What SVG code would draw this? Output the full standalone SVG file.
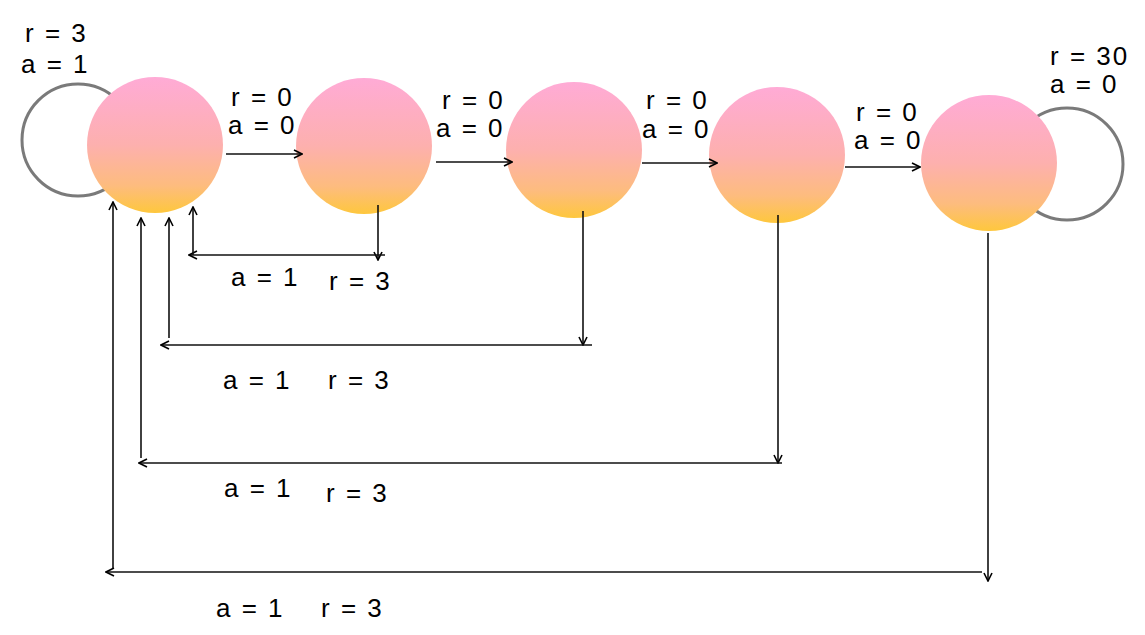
<svg xmlns="http://www.w3.org/2000/svg" width="1145" height="635" viewBox="0 0 1145 635">
  <defs>
    <linearGradient id="fill" x1="0" y1="0" x2="0" y2="1">
      <stop offset="0" stop-color="#FFABD6"/>
      <stop offset="0.5" stop-color="#FDB0AE"/>
      <stop offset="0.8" stop-color="#FDBC7E"/>
      <stop offset="1" stop-color="#FEC73D"/>
    </linearGradient>
    <marker id="arr" viewBox="0 0 10 10" refX="9" refY="5" markerWidth="10" markerHeight="10" markerUnits="userSpaceOnUse" orient="auto">
      <path d="M1,1 L9,5 L1,9" fill="none" stroke="#000" stroke-width="1.6"/>
    </marker>
    <style>
      .st { fill: url(#fill); }
      .loop { fill: none; stroke: #7a7a7a; stroke-width: 3; }
      .ln { fill: none; stroke: #111; stroke-width: 1.6; }
      .ar { fill: none; stroke: #111; stroke-width: 1.6; marker-end: url(#arr); }
      .lb { font-family: "Liberation Sans", Arial, sans-serif; font-size: 26px; letter-spacing: 2px; fill: #000; }
    </style>
  </defs>
  <rect width="1145" height="635" fill="#fff"/>

  <g id="self-loops">
    <circle class="loop" cx="78" cy="140" r="56"/>
    <circle class="loop" cx="1067" cy="164" r="56"/>
  </g>

  <g id="s1"><circle class="st" cx="155" cy="145" r="68"/></g>
  <g id="s2"><circle class="st" cx="364" cy="146" r="68"/></g>
  <g id="s3"><circle class="st" cx="574" cy="150" r="68"/></g>
  <g id="s4"><circle class="st" cx="777" cy="155" r="68"/></g>
  <g id="s5"><circle class="st" cx="989" cy="163" r="68"/></g>

  <g id="connectors">
    <line class="ar" x1="226" y1="154" x2="302" y2="154"/>
    <line class="ar" x1="436" y1="162" x2="512" y2="162"/>
    <line class="ar" x1="642" y1="163" x2="717" y2="163"/>
    <line class="ar" x1="845" y1="167" x2="920" y2="167"/>

    <line class="ar" x1="378" y1="205" x2="378" y2="260"/>
    <line class="ar" x1="385" y1="255" x2="189" y2="255"/>
    <line class="ar" x1="193" y1="255" x2="193" y2="207"/>

    <line class="ar" x1="583" y1="211" x2="583" y2="345"/>
    <line class="ar" x1="592" y1="345" x2="161" y2="345"/>
    <line class="ar" x1="169" y1="338" x2="169" y2="218"/>

    <line class="ar" x1="778" y1="215" x2="778" y2="463"/>
    <line class="ar" x1="782" y1="463" x2="139" y2="463"/>
    <line class="ar" x1="141" y1="458" x2="141" y2="218"/>

    <line class="ar" x1="988" y1="233" x2="988" y2="581"/>
    <line class="ar" x1="982" y1="572" x2="106" y2="572"/>
    <line class="ar" x1="113" y1="568" x2="113" y2="202"/>
  </g>

  <g id="labels">
    <text class="lb" x="25" y="42">r = 3</text>
    <text class="lb" x="21" y="73">a = 1</text>

    <text class="lb" x="231" y="106">r = 0</text>
    <text class="lb" x="228" y="134">a = 0</text>
    <text class="lb" x="442" y="109">r = 0</text>
    <text class="lb" x="436" y="137">a = 0</text>
    <text class="lb" x="646" y="109">r = 0</text>
    <text class="lb" x="642" y="138">a = 0</text>
    <text class="lb" x="856" y="121">r = 0</text>
    <text class="lb" x="854" y="149">a = 0</text>

    <text class="lb" x="1050" y="65">r = 30</text>
    <text class="lb" x="1050" y="93">a = 0</text>

    <text class="lb" x="231" y="286">a = 1</text>
    <text class="lb" x="329" y="290">r = 3</text>
    <text class="lb" x="223" y="389">a = 1</text>
    <text class="lb" x="328" y="389">r = 3</text>
    <text class="lb" x="224" y="497">a = 1</text>
    <text class="lb" x="326" y="502">r = 3</text>
    <text class="lb" x="216" y="617">a = 1</text>
    <text class="lb" x="321" y="617">r = 3</text>
  </g>
</svg>
